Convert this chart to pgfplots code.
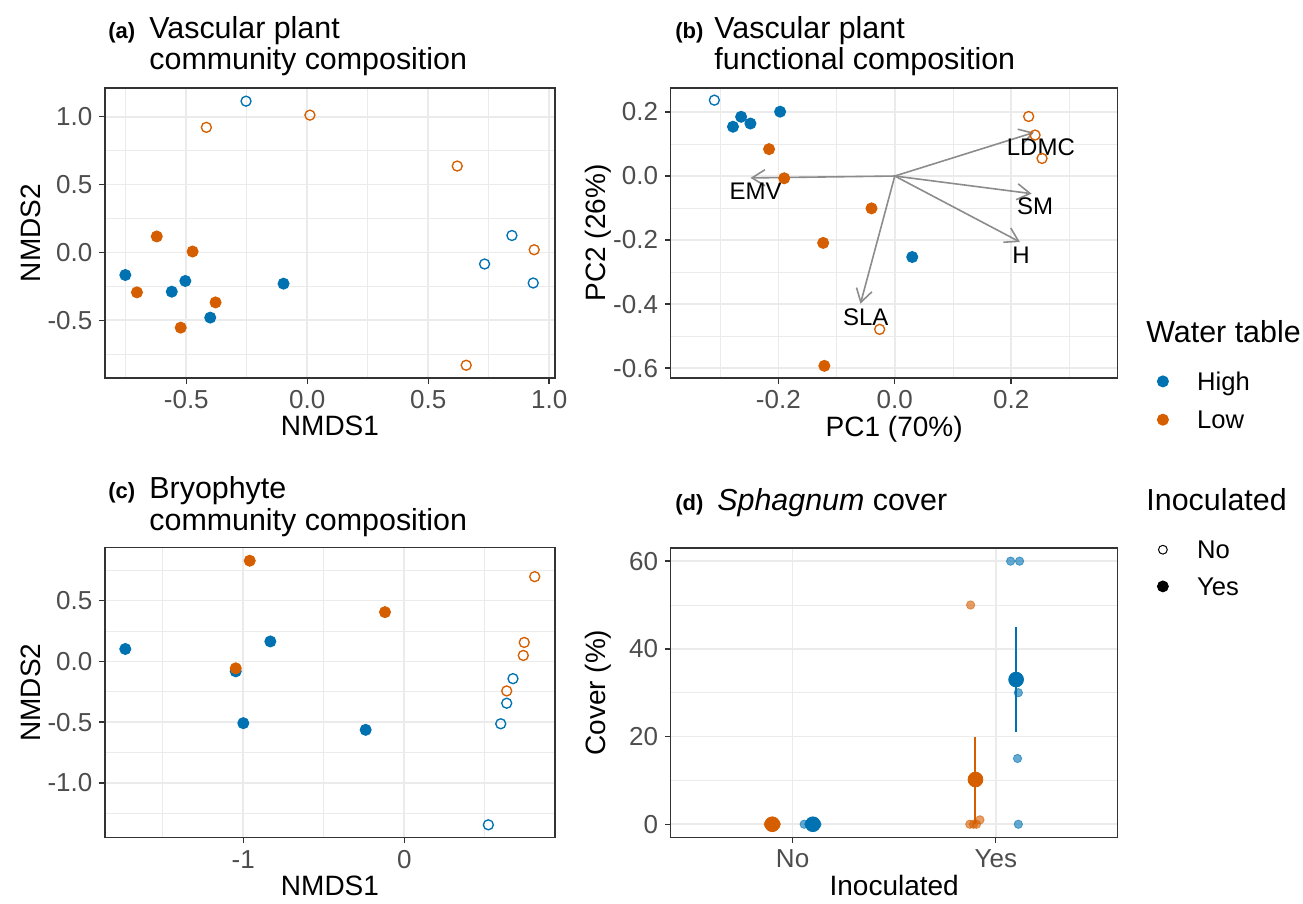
\documentclass[border=0pt]{standalone}
\usepackage{fontspec}
\setmainfont{Liberation Sans}
\usepackage{pgfplots}
\pgfplotsset{compat=1.18}
\usetikzlibrary{arrows.meta}

\definecolor{hblue}{HTML}{0072B2}
\definecolor{lorange}{HTML}{D55E00}
\definecolor{gridc}{HTML}{EBEBEB}
\definecolor{framec}{HTML}{333333}
\definecolor{tickc}{HTML}{4D4D4D}
\definecolor{arrowc}{HTML}{8C8C8C}

\pgfplotsset{
  gg/.style={
    scale only axis,
    axis line style={framec, line width=0.7pt},
    tick align=outside,
    tick pos=left,
    major tick length=2.8pt,
    minor tick length=0pt,
    every tick/.style={framec, line width=0.7pt},
    grid=both,
    major grid style={gridc, line width=0.85pt},
    minor grid style={gridc, line width=0.45pt},
    tick label style={font=\fontsize{13pt}{15pt}\selectfont, text=tickc},
    label style={font=\fontsize{14pt}{16pt}\selectfont},
    legend cell align=left,
  },
  hfill/.style={only marks, mark=*, mark size=2.75pt, color=hblue, mark options={line width=0.5pt}},
  lfill/.style={only marks, mark=*, mark size=2.75pt, color=lorange, mark options={line width=0.5pt}},
  hopen/.style={only marks, mark=o, mark size=2.5pt, color=hblue, mark options={line width=0.67pt}},
  lopen/.style={only marks, mark=o, mark size=2.5pt, color=lorange, mark options={line width=0.67pt}},
}

\newcommand{\tagfont}{\bfseries\fontsize{11pt}{12pt}\selectfont}
\newcommand{\titlefont}{\fontsize{15.2pt}{17pt}\selectfont}
\newcommand{\keyfont}{\fontsize{12.8pt}{14pt}\selectfont}

\begin{document}
\begin{tikzpicture}
\useasboundingbox (0,0) rectangle (651.5pt,-452pt);

% (a) vascular plant NMDS
\begin{axis}[gg,
  at={(52.5pt,-44pt)}, anchor=north west,
  width=225pt, height=145pt,
  xmin=-0.836, xmax=1.024, ymin=-0.925, ymax=1.212,
  xtick={-0.5,0,0.5,1}, xticklabels={-0.5,0.0,0.5,1.0},
  ytick={-0.5,0,0.5,1}, yticklabels={-0.5,0.0,0.5,1.0},
  minor xtick={-0.75,-0.25,0.25,0.75},
  minor ytick={-0.75,-0.25,0.25,0.75},
  xlabel={NMDS1}, ylabel={NMDS2},
  xlabel style={at={(axis description cs:0.5,-0.2)}, anchor=base},
  ylabel style={at={(axis description cs:-0.1444,0.5)}, anchor=base},
]
\addplot[hfill] coordinates {(-0.752,-0.166) (-0.504,-0.210) (-0.560,-0.289) (-0.401,-0.480) (-0.098,-0.230)};
\addplot[lfill] coordinates {(-0.622,0.118) (-0.474,0.007) (-0.704,-0.294) (-0.379,-0.368) (-0.523,-0.554)};
\addplot[hopen] coordinates {(-0.253,1.115) (0.846,0.125) (0.733,-0.085) (0.934,-0.225)};
\addplot[lopen] coordinates {(-0.417,0.922) (0.011,1.012) (0.620,0.637) (0.938,0.020) (0.657,-0.831)};
\end{axis}

% (b) functional PCA
\begin{axis}[gg,
  at={(335.35pt,-44pt)}, anchor=north west,
  width=223.5pt, height=145pt,
  xmin=-0.385, xmax=0.383, ymin=-0.631, ymax=0.275,
  xtick={-0.2,0,0.2}, xticklabels={-0.2,0.0,0.2},
  ytick={-0.6,-0.4,-0.2,0,0.2}, yticklabels={-0.6,-0.4,-0.2,0.0,0.2},
  minor xtick={-0.3,-0.1,0.1,0.3},
  minor ytick={-0.5,-0.3,-0.1,0.1},
  xlabel={PC1 (70\%)}, ylabel={PC2 (26\%)},
  xlabel style={at={(axis description cs:0.5,-0.2)}, anchor=base},
  ylabel style={at={(axis description cs:-0.1454,0.5)}, anchor=base},
  legend style={draw=none, fill=none, at={(axis description cs:1.0879,0.0276)}, anchor=north west,
    inner sep=0pt, row sep=8.15pt, column sep=14.4pt,
    font=\keyfont,
    nodes={inner sep=0pt, text height=10pt, text depth=1pt}},
]
\addlegendimage{hfill}\addlegendentry{High}
\addlegendimage{lfill}\addlegendentry{Low}
\addplot[hfill] coordinates {(-0.278,0.154) (-0.264,0.185) (-0.248,0.164) (-0.197,0.201) (0.030,-0.253)};
\addplot[lfill] coordinates {(-0.216,0.084) (-0.190,-0.007) (-0.040,-0.101) (-0.123,-0.209) (-0.121,-0.593)};
\addplot[hopen] coordinates {(-0.310,0.237)};
\addplot[lopen] coordinates {(0.230,0.186) (0.241,0.128) (0.253,0.055) (-0.026,-0.479)};
% trait loadings
\addplot[arrowc, line width=0.8pt, -{Straight Barb[length=6.5pt,width=8pt]}] coordinates {(0,0) (0.239,0.136)};
\addplot[arrowc, line width=0.8pt, -{Straight Barb[length=6.5pt,width=8pt]}] coordinates {(0,0) (0.235,-0.055)};
\addplot[arrowc, line width=0.8pt, -{Straight Barb[length=6.5pt,width=8pt]}] coordinates {(0,0) (0.215,-0.206)};
\addplot[arrowc, line width=0.8pt, -{Straight Barb[length=6.5pt,width=8pt]}] coordinates {(0,0) (-0.248,-0.006)};
\addplot[arrowc, line width=0.8pt, -{Straight Barb[length=6.5pt,width=8pt]}] coordinates {(0,0) (-0.059,-0.399)};
\node[font=\fontsize{12pt}{13pt}\selectfont] at (axis cs:0.251,0.091) {LDMC};
\node[font=\fontsize{12pt}{13pt}\selectfont] at (axis cs:0.241,-0.094) {SM};
\node[font=\fontsize{12pt}{13pt}\selectfont] at (axis cs:0.217,-0.246) {H};
\node[font=\fontsize{12pt}{13pt}\selectfont] at (axis cs:-0.239,-0.049) {EMV};
\node[font=\fontsize{12pt}{13pt}\selectfont] at (axis cs:-0.050,-0.441) {SLA};
\end{axis}

% (c) bryophyte NMDS
\begin{axis}[gg,
  at={(52.5pt,-273.85pt)}, anchor=north west,
  width=225pt, height=145pt,
  xmin=-1.859, xmax=0.936, ymin=-1.45, ymax=0.935,
  xtick={-1,0}, xticklabels={-1,0},
  ytick={-1,-0.5,0,0.5}, yticklabels={-1.0,-0.5,0.0,0.5},
  minor xtick={-1.5,-0.5,0.5},
  minor ytick={-1.25,-0.75,-0.25,0.25,0.75},
  xlabel={NMDS1}, ylabel={NMDS2},
  xlabel style={at={(axis description cs:0.5,-0.2)}, anchor=base},
  ylabel style={at={(axis description cs:-0.1444,0.5)}, anchor=base},
]
\addplot[hfill] coordinates {(-1.733,0.102) (-0.832,0.164) (-1.047,-0.082) (-1.0,-0.508) (-0.240,-0.563)};
\addplot[lfill] coordinates {(-0.960,0.828) (-0.120,0.405) (-1.047,-0.057)};
\addplot[hopen] coordinates {(0.675,-0.142) (0.636,-0.344) (0.599,-0.513) (0.522,-1.344)};
\addplot[lopen] coordinates {(0.810,0.697) (0.745,0.156) (0.739,0.049) (0.636,-0.243)};
\end{axis}

% (d) Sphagnum cover
\begin{axis}[gg,
  at={(335.35pt,-274pt)}, anchor=north west,
  width=223.5pt, height=144.7pt,
  xmin=0.4, xmax=2.6, ymin=-3, ymax=63,
  xtick={1,2}, xticklabels={No,Yes},
  ytick={0,20,40,60}, yticklabels={0,20,40,60},
  minor ytick={10,30,50},
  xlabel={Inoculated}, ylabel={Cover (\%)},
  xlabel style={at={(axis description cs:0.5,-0.2004)}, anchor=base},
  ylabel style={at={(axis description cs:-0.1454,0.5)}, anchor=base},
  legend style={draw=none, fill=none, at={(axis description cs:1.0879,1.0335)}, anchor=north west,
    inner sep=0pt, row sep=7.35pt, column sep=14.4pt,
    font=\keyfont,
    nodes={inner sep=0pt, text height=10pt, text depth=1pt}},
]
\addlegendimage{only marks, mark=o, mark size=2.2pt, black, mark options={line width=0.5pt}}\addlegendentry{No}
\addlegendimage{only marks, mark=*, mark size=2.75pt, black}\addlegendentry{Yes}
% replicate plots
\addplot[only marks, mark=*, mark size=2.1pt, lorange, mark options={opacity=0.6}] coordinates {
  (0.88,0) (0.89,0) (0.90,0) (0.91,0) (0.92,0)
  (1.876,50) (1.872,0) (1.890,0) (1.905,0) (1.922,1)};
\addplot[only marks, mark=*, mark size=2.1pt, hblue, mark options={opacity=0.6}] coordinates {
  (1.057,0) (1.08,0) (1.09,0) (1.10,0) (1.12,0)
  (2.073,60) (2.117,60) (2.111,30) (2.107,15) (2.111,0)};
% mean and interval
\addplot[lorange, line width=1pt] coordinates {(1.9,0) (1.9,20)};
\addplot[hblue, line width=1pt] coordinates {(2.1,21) (2.1,45)};
\addplot[only marks, mark=*, mark size=3.7pt, lorange] coordinates {(0.9,0) (1.9,10.2)};
\addplot[only marks, mark=*, mark size=3.7pt, hblue] coordinates {(1.1,0) (2.1,33)};
\end{axis}

% panel titles
\node[anchor=base west, inner sep=0pt, font=\tagfont] at (54pt,-19.3pt) {(a)};
\node[anchor=base west, inner sep=0pt, font=\titlefont] at (74.5pt,-19.3pt) {Vascular plant};
\node[anchor=base west, inner sep=0pt, font=\titlefont] at (74.5pt,-34.8pt) {community composition};
\node[anchor=base west, inner sep=0pt, font=\tagfont] at (337.5pt,-19.3pt) {(b)};
\node[anchor=base west, inner sep=0pt, font=\titlefont] at (357pt,-19.3pt) {Vascular plant};
\node[anchor=base west, inner sep=0pt, font=\titlefont] at (357pt,-34.8pt) {functional composition};
\node[anchor=base west, inner sep=0pt, font=\tagfont] at (54pt,-249.3pt) {(c)};
\node[anchor=base west, inner sep=0pt, font=\titlefont] at (74.5pt,-249.3pt) {Bryophyte};
\node[anchor=base west, inner sep=0pt, font=\titlefont] at (74.5pt,-265.3pt) {community composition};
\node[anchor=base west, inner sep=0pt, font=\tagfont] at (337.5pt,-255.3pt) {(d)};
\node[anchor=base west, inner sep=0pt, font=\titlefont] at (358.5pt,-255.3pt) {\textit{Sphagnum} cover};

% legend titles
\node[anchor=base west, inner sep=0pt, font=\titlefont] at (573pt,-171.5pt) {Water table};
\node[anchor=base west, inner sep=0pt, font=\titlefont] at (573pt,-255pt) {Inoculated};
\end{tikzpicture}
\end{document}
